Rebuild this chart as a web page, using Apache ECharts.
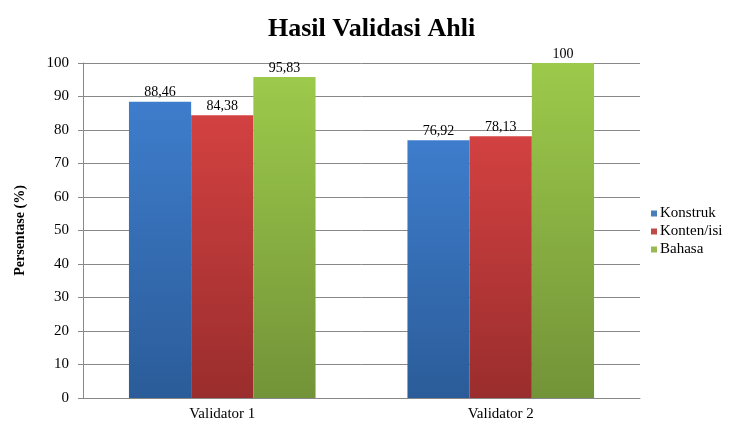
<!DOCTYPE html>
<html>
<head>
<meta charset="utf-8">
<script src="https://cdn.jsdelivr.net/npm/echarts@6/dist/echarts.min.js"></script>
<style>
  html, body { margin: 0; padding: 0; background: #fff; }
  #chart { width: 730px; height: 428px; }
</style>
</head>
<body>
<div id="chart"></div>
<script>
var categories = ['Validator 1', 'Validator 2'];
var seriesNames = ['Konstruk', 'Konten/isi', 'Bahasa'];
var konstruk = [88.46, 76.92];
var konten = [84.38, 78.13];
var bahasa = [95.83, 100];

var chart = echarts.init(document.getElementById('chart'));
var serif = '"Liberation Serif", "DejaVu Serif", serif';

function grad(top, bottom) {
    return new echarts.graphic.LinearGradient(0, 0, 0, 1, [
        { offset: 0, color: top },
        { offset: 1, color: bottom }
    ]);
}

function fmt(p) {
    return String(p.value).replace('.', ',');
}

function bar(name, data, top, bottom) {
    return {
        name: name,
        type: 'bar',
        data: data,
        barGap: '0%',
        barCategoryGap: '33%',
        itemStyle: { color: grad(top, bottom) },
        label: {
            show: true,
            position: 'top',
            distance: 2,
            formatter: fmt,
            fontFamily: serif,
            fontSize: 14,
            color: '#000'
        }
    };
}

var option = {
    animation: false,
    textStyle: { fontFamily: serif },
    title: {
        text: 'Hasil Validasi Ahli',
        left: 263,
        top: 11,
        textStyle: { fontFamily: serif, fontSize: 26, fontWeight: 'bold', color: '#000' }
    },
    legend: {
        orient: 'vertical',
        left: 646,
        top: 201,
        itemWidth: 6,
        itemHeight: 6,
        itemGap: 3,
        icon: 'rect',
        textStyle: { fontFamily: serif, fontSize: 15, color: '#000', padding: [0, 0, 0, -2] },
        data: [
            { name: 'Konstruk', itemStyle: { color: '#4a7ebb' } },
            { name: 'Konten/isi', itemStyle: { color: '#be4b48' } },
            { name: 'Bahasa', itemStyle: { color: '#98b954' } }
        ]
    },
    grid: { left: 83, right: 90, top: 63, bottom: 30 },
    xAxis: {
        type: 'category',
        data: categories,
        axisLine: { lineStyle: { color: '#888' } },
        axisTick: { show: false },
        axisLabel: { fontFamily: serif, fontSize: 15, color: '#000', margin: 9 }
    },
    yAxis: {
        type: 'value',
        min: 0,
        max: 100,
        interval: 10,
        name: 'Persentase (%)',
        nameLocation: 'middle',
        nameGap: 56,
        nameTextStyle: { fontFamily: serif, fontSize: 14, fontWeight: 'bold', color: '#000' },
        axisLine: { show: true, lineStyle: { color: '#888' } },
        axisTick: { show: true, length: 5, lineStyle: { color: '#888' } },
        axisLabel: { fontFamily: serif, fontSize: 15, color: '#000', margin: 14 },
        splitLine: { lineStyle: { color: '#888' } }
    },
    series: [
        bar('Konstruk', konstruk, '#3e7dcc', '#2b5c99'),
        bar('Konten/isi', konten, '#d34141', '#9a2d2d'),
        bar('Bahasa', bahasa, '#9cca4b', '#739338')
    ]
};

chart.setOption(option);
</script>
</body>
</html>
